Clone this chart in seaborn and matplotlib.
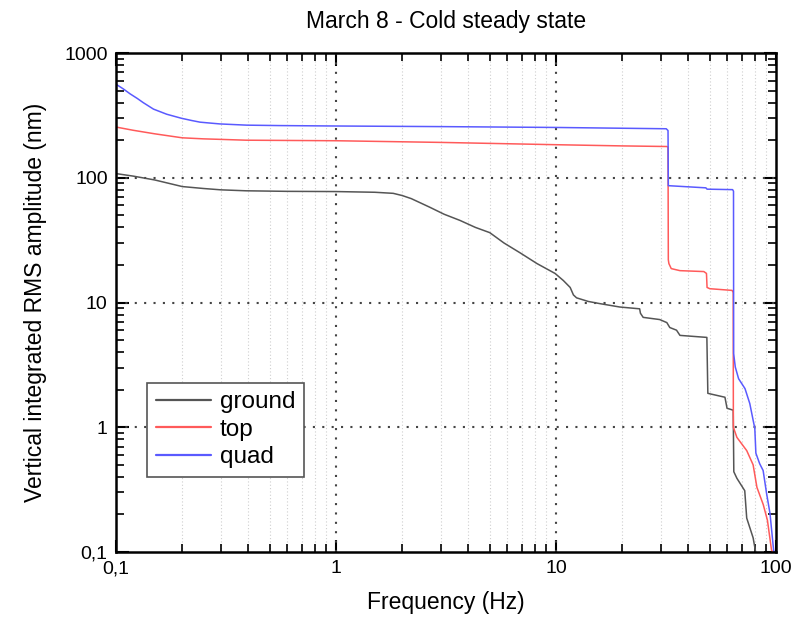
import numpy as np
import pandas as pd
import matplotlib
matplotlib.use("Agg")
import matplotlib.pyplot as plt
from matplotlib.ticker import FixedLocator, FixedFormatter, LogLocator, NullFormatter
import seaborn as sns

# ---------------- data ----------------
title = "March 8 - Cold steady state"
xlabel = "Frequency (Hz)"
ylabel = "Vertical integrated RMS amplitude (nm)"

series_names = ["ground", "top", "quad"]
series_colors = ["#555555", "#ff5a5a", "#5a5aff"]

ground_freq = [0.1, 0.12, 0.15, 0.2, 0.25, 0.3, 0.39, 0.6, 1.0, 1.5, 1.82, 2.0, 2.2,
               2.67, 3.1, 3.66, 4.3, 5.0, 5.8, 6.87, 8.2, 9.9, 10.8, 11.6, 12.0, 12.4,
               14.0, 15.8, 19.5, 24.0, 24.2, 24.9, 29.6, 31.9, 32.9, 35.3, 36.6, 48.5,
               49.0, 58.6, 59.9, 63.9, 64.3, 66.4, 72.1, 73.6, 78.7, 80.8]
ground_amp = [108, 103, 96, 85, 82, 80, 78.6, 77.8, 77.5, 76.5, 75, 72, 68,
              58, 51, 45.5, 40, 36.3, 30, 25, 20.5, 17.1, 15, 13.2, 11.5, 10.9,
              10.2, 9.8, 9.2, 8.9, 8.2, 7.6, 7.3, 6.9, 6.3, 6.0, 5.45, 5.25,
              1.87, 1.74, 1.42, 1.37, 0.44, 0.39, 0.31, 0.187, 0.13, 0.1]

top_freq = [0.1, 0.12, 0.15, 0.2, 0.25, 0.3, 0.39, 1.0, 3.0, 10.0, 20.0, 31.9, 32.3,
            32.4, 32.6, 33.4, 36.6, 47.0, 48.3, 48.6, 50.0, 63.2, 63.9, 64.0, 66.4,
            73.6, 78.7, 81.9, 87.5, 91.4, 95.4, 96.5]
top_amp = [255, 240, 225, 209, 205, 203, 200, 198, 192, 184, 180, 178, 176,
           22, 20.5, 18.7, 18.0, 17.7, 17.1, 13.2, 12.9, 12.5, 12.0, 1.0, 0.83,
           0.65, 0.50, 0.33, 0.24, 0.18, 0.104, 0.1]

quad_freq = [0.1, 0.108, 0.116, 0.125, 0.133, 0.148, 0.17, 0.198, 0.22, 0.241, 0.27,
             0.297, 0.393, 0.55, 0.97, 3.0, 10.0, 31.7, 32.3, 32.4, 48.0, 48.6, 63.5,
             64.1, 64.2, 65.3, 67.6, 72.3, 76.0, 78.7, 80.1, 81.0, 84.3, 87.4, 90.6,
             93.9, 97.5, 98.0]
quad_amp = [562, 515, 470, 432, 400, 355, 323, 300, 288, 279, 274,
            270, 264, 262, 260, 257, 253, 247, 239, 86.4, 83, 81, 80.3,
            78, 3.89, 3.04, 2.45, 2.04, 1.55, 1.14, 0.98, 0.62, 0.51, 0.45,
            0.295, 0.204, 0.104, 0.1]

x_ticks = [0.1, 1, 10, 100]
x_ticklabels = ["0,1", "1", "10", "100"]
y_ticks = [0.1, 1, 10, 100, 1000]
y_ticklabels = ["0,1", "1", "10", "100", "1000"]

# ---------------- build long-form table ----------------
frames = []
for name, f, a in [("ground", ground_freq, ground_amp),
                   ("top", top_freq, top_amp),
                   ("quad", quad_freq, quad_amp)]:
    frames.append(pd.DataFrame({"freq": f, "amp": a, "series": name}))
df = pd.concat(frames, ignore_index=True)

# ---------------- styling ----------------
sns.set_theme(style="white")
plt.rcParams["font.family"] = ["Liberation Sans", "DejaVu Sans"]
plt.rcParams["text.color"] = "black"
plt.rcParams["axes.labelcolor"] = "black"
plt.rcParams["xtick.color"] = "black"
plt.rcParams["ytick.color"] = "black"

fig = plt.figure(figsize=(7.91, 6.24), dpi=100)
ax = fig.add_axes([116 / 791, 1 - 552 / 624, 660 / 791, 499 / 624])

sns.lineplot(data=df, x="freq", y="amp", hue="series", hue_order=series_names,
             palette=series_colors, estimator=None, sort=False, linewidth=1.1,
             legend=False, ax=ax, zorder=3)

ax.set_xscale("log")
ax.set_yscale("log")
ax.set_xlim(0.1, 100)
ax.set_ylim(0.1, 1000)

ax.xaxis.set_major_locator(FixedLocator(x_ticks))
ax.xaxis.set_major_formatter(FixedFormatter(x_ticklabels))
ax.yaxis.set_major_locator(FixedLocator(y_ticks))
ax.yaxis.set_major_formatter(FixedFormatter(y_ticklabels))
ax.xaxis.set_minor_locator(LogLocator(base=10, subs=np.arange(2, 10), numticks=20))
ax.yaxis.set_minor_locator(LogLocator(base=10, subs=np.arange(2, 10), numticks=20))
ax.xaxis.set_minor_formatter(NullFormatter())
ax.yaxis.set_minor_formatter(NullFormatter())

ax.tick_params(which="both", direction="in", top=True, right=True, bottom=True, left=True,
               colors="black")
ax.tick_params(which="major", length=9, width=1.5, labelsize=14, pad=6)
ax.tick_params(which="minor", length=5.5, width=1.2)

# grids
ax.grid(False)
ax.grid(which="minor", axis="x", color="#cfcfcf", linestyle=(0, (1, 2)), linewidth=0.8, zorder=0)
for xv in [1, 10]:
    ax.axvline(xv, color="#444444", linestyle=(0, (1, 3.5)), linewidth=1.5, zorder=1)
for yv in [1, 10, 100]:
    ax.axhline(yv, color="#444444", linestyle=(0, (1, 3.5)), linewidth=1.5, zorder=1)

for s in ax.spines.values():
    s.set_color("black")
    s.set_linewidth(1.8)
    s.set_zorder(5)

ax.set_title(title, fontsize=16.5, pad=18)
ax.set_xlabel(xlabel, fontsize=16.5, labelpad=10)
ax.set_ylabel(ylabel, fontsize=16.5, labelpad=12)

# legend
handles = [plt.Line2D([], [], color=c, linewidth=1.6) for c in series_colors]
leg = ax.legend(handles, series_names, loc="upper left", bbox_to_anchor=(0.047, 0.339),
                borderaxespad=0, fontsize=17.5, frameon=True, fancybox=False,
                handlelength=2.3, handletextpad=0.35, labelspacing=0.22,
                borderpad=0.35)
leg.get_frame().set_edgecolor("#555555")
leg.get_frame().set_linewidth(1.2)
leg.get_frame().set_facecolor("white")
leg.get_frame().set_alpha(1)

fig.savefig("out.png", dpi=100)
